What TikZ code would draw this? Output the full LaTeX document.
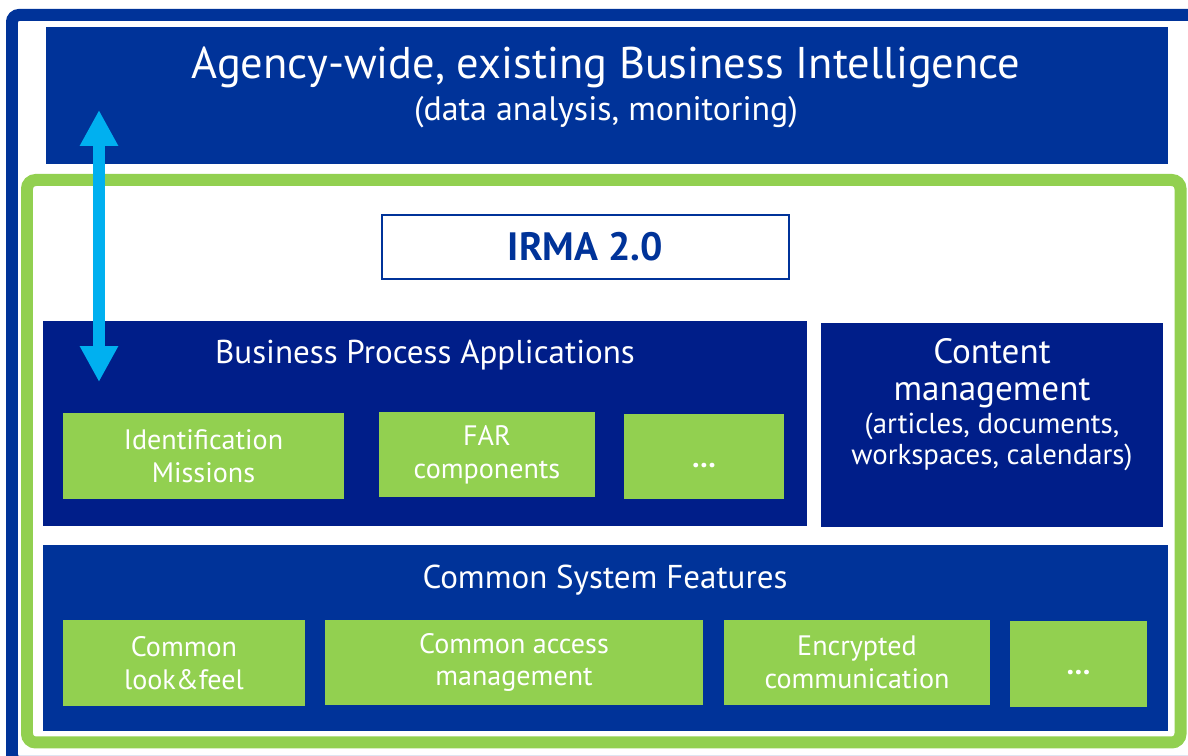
\documentclass[tikz,border=0pt]{standalone}
\usepackage{fontspec}
\setmainfont{PT Sans}
\usetikzlibrary{fit, arrows.meta}

\definecolor{irmablue}{RGB}{0,51,153}
\definecolor{irmanavy}{RGB}{0,30,137}
\definecolor{irmagreen}{RGB}{146,208,80}
\definecolor{irmacyan}{RGB}{0,176,240}

\tikzset{
  panel/.style={fill=#1, draw=none, inner sep=0pt},
  panel/.default=irmablue,
  feature/.style={fill=irmagreen, inner sep=0pt, text=white, align=center,
    font=\fontsize{16}{18.7}\selectfont},
  heading/.style={text=white, inner sep=0pt, font=\fontsize{18.8}{21}\selectfont},
  linkarrow/.style={draw=irmacyan, line width=0.24cm,
    {Triangle[width=0.72cm,length=0.72cm]}-{Triangle[width=0.72cm,length=0.72cm]}}
}

\begin{document}
\begin{tikzpicture}[x=0.02cm, y=-0.02cm]
  \clip (0,0) rectangle (1188,756);
  \fill[white] (0,0) rectangle (1188,756);

  % outer frame and the IRMA frame
  \draw[irmablue, line width=0.24cm, rounded corners=4] (12,15) rectangle (1200,762);
  \node[panel, fit={(46,27) (1168,164)}] (bi) {};
  \draw[irmagreen, line width=0.24cm, rounded corners=5] (27,180) rectangle (1180.5,742.5);

  % business intelligence on top
  \node[heading, font=\fontsize{25.3}{28}\selectfont] (biTitle) at (606,67) {Agency-wide, existing Business Intelligence};
  \node[heading, font=\fontsize{19.3}{22}\selectfont] (biSub) at (606,112) {(data analysis, monitoring)};

  % IRMA 2.0 label
  \node[draw=irmablue, line width=1.2pt, fill=white, inner sep=0pt, fit={(382,215) (789,279)}] (irma) {};
  \node[text=irmablue, font=\bfseries\fontsize{22.5}{25}\selectfont] (irmaTitle) at (irma.center) {IRMA 2.0};

  % business process applications
  \node[panel=irmanavy, fit={(43,321) (807,526)}] (bpa) {};
  \node[heading] (bpaTitle) at (425,355) {Business Process Applications};
  \node[feature, fit={(63,413) (344,499)}] (idm) {};
  \node[feature] at (idm.center) {Identification\\Missions};
  \node[feature, fit={(379,412) (595,497)}] (far) {};
  \node[feature] at (far.center) {FAR\\components};
  \node[feature, fit={(624,414) (784,499)}] (bpaMore) {};
  \node[feature, font=\bfseries\fontsize{17}{19}\selectfont] at ([yshift=-0.18cm]bpaMore.center) {…};

  % content management
  \node[panel=irmanavy, fit={(821,323) (1163,527)}] (cms) {};
  \node[heading, align=center, font=\fontsize{20}{21}\selectfont] (cmsTitle) at (992,373) {Content\\management};
  \node[heading, align=center, font=\fontsize{16.4}{18}\selectfont] (cmsSub) at (992,442) {(articles, documents,\\workspaces, calendars)};

  % common system features
  \node[panel, fit={(43,545) (1168,731)}] (csf) {};
  \node[heading] (csfTitle) at (605,580) {Common System Features};
  \node[feature, fit={(63,620) (305,706)}] (look) {};
  \node[feature] at (look.center) {Common\\look\&feel};
  \node[feature, fit={(325,620) (703,705)}] (access) {};
  \node[feature] at (access.center) {Common access\\management};
  \node[feature, fit={(724,620) (990,705)}] (crypt) {};
  \node[feature] at (crypt.center) {Encrypted\\communication};
  \node[feature, fit={(1010,621) (1147,707)}] (csfMore) {};
  \node[feature, font=\bfseries\fontsize{17}{19}\selectfont] at ([yshift=-0.18cm]csfMore.center) {…};

  % link between BI and the applications
  \coordinate (biEnd) at (99,110);
  \coordinate (bpaEnd) at (99,382);
  \draw[linkarrow] (bpaEnd) -- (biEnd);
\end{tikzpicture}
\end{document}
